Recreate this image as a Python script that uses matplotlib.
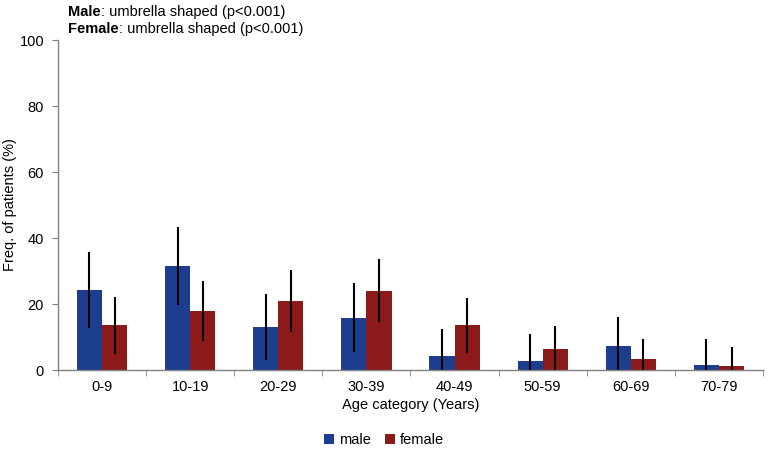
import numpy as np
import matplotlib
matplotlib.use("Agg")
import matplotlib.pyplot as plt

plt.rcParams['font.family'] = ['Liberation Sans', 'DejaVu Sans']

# data
categories = ['0-9', '10-19', '20-29', '30-39', '40-49', '50-59', '60-69', '70-79']
male = [24.2, 31.5, 13.0, 15.9, 4.3, 2.8, 7.3, 1.5]
male_err = [11.5, 11.7, 10.0, 10.5, 8.2, 8.0, 8.8, 7.9]
female = [13.6, 17.9, 20.9, 24.0, 13.6, 6.4, 3.2, 1.1]
female_err = [8.6, 9.0, 9.3, 9.6, 8.3, 6.8, 6.1, 6.0]

blue = '#1d3e8f'
red = '#8b1a18'

fig = plt.figure(figsize=(7.68, 4.51), dpi=100)
ax = fig.add_axes([0.0755, 0.1796, 0.918, 0.7316])

x = np.arange(len(categories))
w = 0.285
ax.bar(x - w / 2, male, w, color=blue, label='male',
       yerr=male_err, error_kw=dict(ecolor='black', elinewidth=1.5, capsize=0))
ax.bar(x + w / 2, female, w, color=red, label='female',
       yerr=female_err, error_kw=dict(ecolor='black', elinewidth=1.5, capsize=0))

ax.set_xlim(-0.5, len(categories) - 0.5)
ax.set_ylim(0, 100)
ax.set_yticks([0, 20, 40, 60, 80, 100])
ax.set_xticks(x)
ax.set_xticklabels(categories, fontsize=10.5)
ax.set_xticks(np.arange(len(categories) + 1) - 0.5, minor=True)
ax.tick_params(axis='x', which='major', length=0, pad=7)
ax.tick_params(axis='x', which='minor', length=4, color='#808080', direction='out')
ax.tick_params(axis='y', labelsize=10.5, length=4, color='#808080', direction='out', pad=6)

for s in ['top', 'right']:
    ax.spines[s].set_visible(False)
for s in ['left', 'bottom']:
    ax.spines[s].set_color('#808080')
    ax.spines[s].set_linewidth(1.0)

ax.set_xlabel('Age category (Years)', fontsize=10.5, labelpad=3)
ax.set_ylabel('Freq. of patients (%)', fontsize=10.5, labelpad=2)

# header lines with bold prefix
t1 = fig.text(0.0885, 0.99, 'Male', fontsize=10.5, fontweight='bold', va='top')
ax.annotate(': umbrella shaped (p<0.001)', xy=(1, 0), xycoords=t1,
            fontsize=10.5, va='bottom', ha='left')
t2 = fig.text(0.0885, 0.952, 'Female', fontsize=10.5, fontweight='bold', va='top')
ax.annotate(': umbrella shaped (p<0.001)', xy=(1, 0), xycoords=t2,
            fontsize=10.5, va='bottom', ha='left')

fig.legend(loc='center', bbox_to_anchor=(0.5, 0.024), ncol=2, frameon=False,
           fontsize=10.5, handlelength=0.7, handleheight=0.7, handletextpad=0.3,
           columnspacing=1.0)

fig.savefig('out.png', dpi=100)
